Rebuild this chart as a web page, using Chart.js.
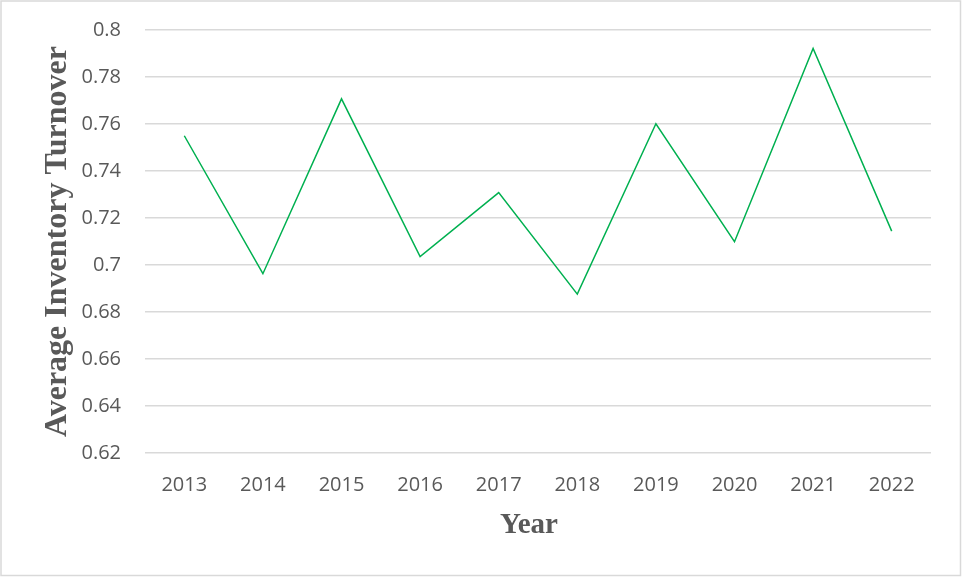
<!DOCTYPE html>
<html lang="en">
<head>
<meta charset="UTF-8">
<title>Average Inventory Turnover</title>
<style>
  body { margin: 0; background: #ffffff; }
  .wrap { position: relative; width: 962px; height: 577px; }
</style>
</head>
<body>
<div class="wrap">
  <canvas id="chart" width="962" height="577"></canvas>
</div>
<script src="https://cdn.jsdelivr.net/npm/chart.js"></script>
<script>
// Yearly average inventory turnover
const years = ['2013', '2014', '2015', '2016', '2017', '2018', '2019', '2020', '2021', '2022'];
const turnover = [0.755, 0.6963, 0.7707, 0.7036, 0.7308, 0.6876, 0.7601, 0.7099, 0.7921, 0.7144];

const yMin = 0.62;
const yMax = 0.8;
const yStep = 0.02;

const textColor = '#595959';
const gridColor = '#d9d9d9';
const lineColor = '#00b050';

// thin grey frame around the whole chart, plus the x axis title
// (drawn by hand so it can sit a little left of the plot centre)
const framePlugin = {
  id: 'frame',
  afterDraw(chart) {
    const ctx = chart.ctx;
    ctx.save();
    ctx.strokeStyle = '#d9d9d9';
    ctx.lineWidth = 1.5;
    ctx.strokeRect(1, 1, chart.width - 2.5, chart.height - 2.5);

    ctx.fillStyle = textColor;
    ctx.font = 'bold 29px "Liberation Serif"';
    ctx.textAlign = 'center';
    ctx.textBaseline = 'middle';
    ctx.fillText('Year', 529, 526);
    ctx.restore();
  }
};

new Chart(document.getElementById('chart'), {
  type: 'line',
  data: {
    labels: years,
    datasets: [{
      label: 'Average Inventory Turnover',
      data: turnover,
      borderColor: lineColor,
      borderWidth: 1.5,
      pointRadius: 0,
      tension: 0,
      fill: false
    }]
  },
  options: {
    responsive: false,
    animation: false,
    layout: { padding: { left: 30, top: 30, right: 31, bottom: 20 } },
    plugins: {
      legend: { display: false },
      tooltip: { enabled: false }
    },
    scales: {
      x: {
        offset: true,
        grid: { display: false, drawTicks: false },
        border: { display: false },
        ticks: {
          color: textColor,
          padding: 20,
          maxRotation: 0,
          font: { family: 'Open Sans', size: 20 }
        },
        afterFit(scale) { scale.height = 104; }
      },
      y: {
        min: yMin,
        max: yMax,
        grid: { color: gridColor, lineWidth: 1.5, drawTicks: false },
        border: { display: false },
        ticks: {
          stepSize: yStep,
          color: textColor,
          padding: 24,
          font: { family: 'Open Sans', size: 20 },
          callback: (v) => String(parseFloat(v.toFixed(2)))
        },
        title: {
          display: true,
          text: 'Average Inventory Turnover',
          color: textColor,
          padding: { top: 9, bottom: 0 },
          font: { family: 'Liberation Serif', size: 32, weight: 'bold' }
        },
        afterFit(scale) {
          scale.width = 115;
          // let the layout padding alone decide where the plot starts
          scale.paddingTop = 0;
          scale.paddingBottom = 0;
        }
      }
    }
  },
  plugins: [framePlugin]
});
</script>
</body>
</html>
